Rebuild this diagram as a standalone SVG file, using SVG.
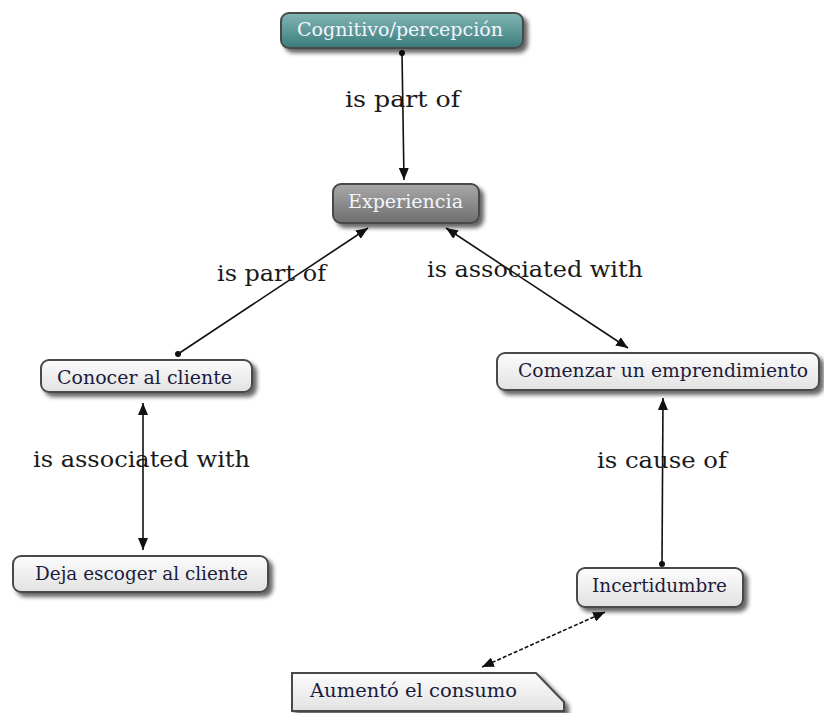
<svg xmlns="http://www.w3.org/2000/svg" width="824" height="713" viewBox="0 0 824 713">
<style>
.box{stroke:#4a4a4a;stroke-width:2;filter:url(#sh)}
.lt{fill:url(#gl)}
.nt{font-family:"DejaVu Serif","Liberation Serif",serif;font-size:19px;fill:#1c1c3c}
.wt{font-family:"DejaVu Serif","Liberation Serif",serif;font-size:19px;fill:#f2f6ff}
.lb{font-family:"DejaVu Serif","Liberation Serif",serif;font-size:23px;fill:#1a1a1a}
.c{stroke:#111;stroke-width:1.6;fill:none}
</style>
<defs>
<linearGradient id="gl" x1="0" y1="0" x2="0" y2="1"><stop offset="0" stop-color="#fcfcfc"/><stop offset="1" stop-color="#e2e2e2"/></linearGradient>
<linearGradient id="gt" x1="0" y1="0" x2="0" y2="1"><stop offset="0" stop-color="#82b7b5"/><stop offset="1" stop-color="#3a7c7b"/></linearGradient>
<linearGradient id="gg" x1="0" y1="0" x2="0" y2="1"><stop offset="0" stop-color="#a9a9a9"/><stop offset="1" stop-color="#6e6e6e"/></linearGradient>
<filter id="sh" x="-10%" y="-20%" width="130%" height="160%"><feDropShadow dx="4" dy="4" stdDeviation="2" flood-color="#000" flood-opacity="0.6"/></filter>
<marker id="ah" viewBox="0 0 12 10" refX="12" refY="5" markerWidth="12" markerHeight="10" markerUnits="userSpaceOnUse" orient="auto-start-reverse"><path d="M0,0 L12,5 L0,10 Z" fill="#111"/></marker>
<marker id="dt" viewBox="0 0 6 6" refX="3" refY="3" markerWidth="6" markerHeight="6" markerUnits="userSpaceOnUse"><circle cx="3" cy="3" r="3" fill="#111"/></marker>
</defs>
<rect width="824" height="713" fill="#fff"/>
<g id="connectors">
<line class="c" x1="402" y1="53" x2="404" y2="180" marker-start="url(#dt)" marker-end="url(#ah)"/>
<line class="c" x1="178" y1="354" x2="368" y2="228" marker-start="url(#dt)" marker-end="url(#ah)"/>
<line class="c" x1="446" y1="228" x2="628" y2="348" marker-start="url(#ah)" marker-end="url(#ah)"/>
<line class="c" x1="143" y1="403" x2="143" y2="550" marker-start="url(#ah)" marker-end="url(#ah)"/>
<line class="c" x1="662" y1="564" x2="663" y2="398" marker-start="url(#dt)" marker-end="url(#ah)"/>
<line class="c" x1="605" y1="612" x2="482" y2="667" stroke-dasharray="4,2" marker-start="url(#ah)" marker-end="url(#ah)"/>
<text class="lb" x="345" y="107" textLength="115" lengthAdjust="spacingAndGlyphs">is part of</text>
<text class="lb" x="217" y="281" textLength="109" lengthAdjust="spacingAndGlyphs">is part of</text>
<text class="lb" x="427" y="277" textLength="216" lengthAdjust="spacingAndGlyphs">is associated with</text>
<text class="lb" x="33" y="467" textLength="217" lengthAdjust="spacingAndGlyphs">is associated with</text>
<text class="lb" x="597" y="468" textLength="130" lengthAdjust="spacingAndGlyphs">is cause of</text>
</g>
<g id="n-cognitivo">
<rect class="box" x="281" y="13" width="242" height="35" rx="8" fill="url(#gt)"/>
<text class="wt" x="297" y="36" textLength="206" lengthAdjust="spacingAndGlyphs">Cognitivo/percepción</text>
</g>
<g id="n-experiencia">
<rect class="box" x="333" y="184" width="146" height="39" rx="8" fill="url(#gg)"/>
<text class="wt" x="348" y="208" textLength="115" lengthAdjust="spacingAndGlyphs">Experiencia</text>
</g>
<g id="n-conocer">
<rect class="box lt" x="41" y="360" width="211" height="32" rx="8"/>
<text class="nt" x="57" y="384" textLength="175" lengthAdjust="spacingAndGlyphs">Conocer al cliente</text>
</g>
<g id="n-comenzar">
<rect class="box lt" x="497" y="353" width="322" height="37" rx="8"/>
<text class="nt" x="518" y="377" textLength="290" lengthAdjust="spacingAndGlyphs">Comenzar un emprendimiento</text>
</g>
<g id="n-deja">
<rect class="box lt" x="13" y="556" width="255" height="36" rx="8"/>
<text class="nt" x="35" y="580" textLength="213" lengthAdjust="spacingAndGlyphs">Deja escoger al cliente</text>
</g>
<g id="n-incertidumbre">
<rect class="box lt" x="577" y="568" width="166" height="39" rx="8"/>
<text class="nt" x="592" y="592" textLength="135" lengthAdjust="spacingAndGlyphs">Incertidumbre</text>
</g>
<g id="n-aumento">
<path class="box lt" d="M292,673 L536,673 L564,702 L564,711 L292,711 Z"/>
<text class="nt" x="310" y="697" textLength="207" lengthAdjust="spacingAndGlyphs">Aumentó el consumo</text>
</g>
</svg>
